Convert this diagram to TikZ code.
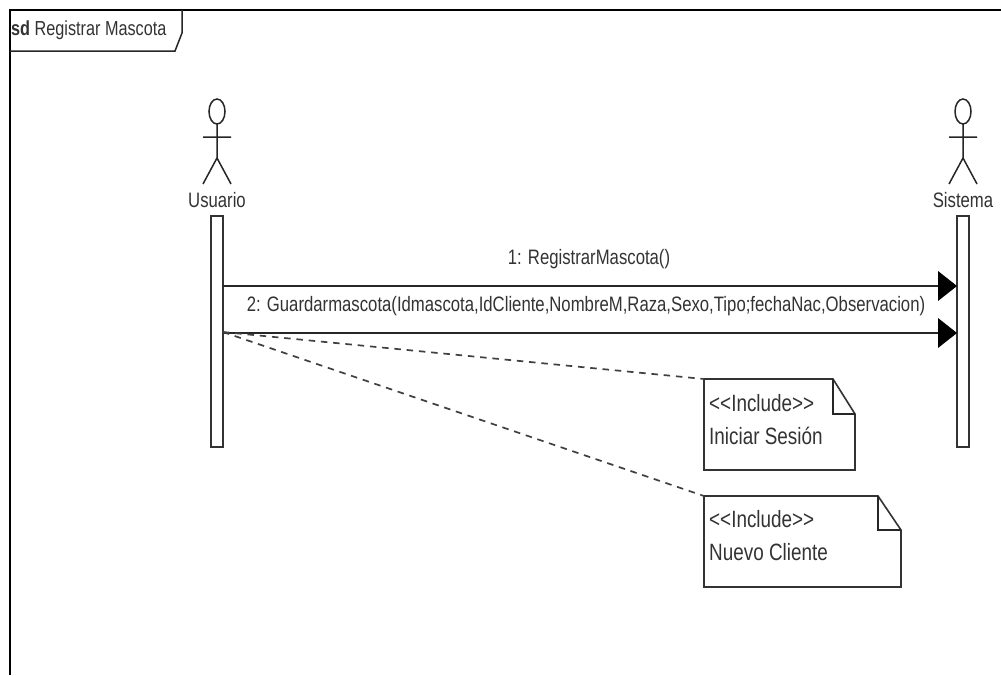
\documentclass[tikz,border=0pt]{standalone}
\usepackage{fontspec}
\setmainfont[FakeStretch=0.8]{Liberation Sans}
\tikzset{
  x=1pt,y=-1pt,
  line/.style={draw=black!85,line width=1.5pt},
  bar/.style={draw=black!80,line width=1.6pt,fill=white},
  lbl/.style={inner sep=0pt,font=\fontsize{20.9}{24}\selectfont,text=black!80},
  ttl/.style={inner sep=0pt,font=\fontsize{20.3}{24}\selectfont,text=black!80},
  ntx/.style={inner sep=0pt,font=\fontsize{23.6}{26}\selectfont,text=black!80},
  msg/.style={draw=black!85,line width=2pt},
  tip/.style={fill=black,draw=none},
  link/.style={draw=black!75,line width=1.7pt,dash pattern=on 6.5pt off 5.8pt},
}
\newcommand{\stickman}[1]{%
  \draw[line] (#1,111.5) ellipse [x radius=8,y radius=12.5];
  \draw[line] (#1,124) -- (#1,158) (#1-14,137) -- (#1+14,137) (#1-14,184) -- (#1,158) -- (#1+14,184);
}
\begin{document}
\begin{tikzpicture}
\useasboundingbox (0,0) rectangle (1001,675);
\fill[white] (0,0) rectangle (1001,675);
\draw[draw=black,line width=2pt] (9.5,675) -- (9.5,9.5) -- (1001,9.5);
\draw[line] (9.5,51) -- (175,51) -- (182,33) -- (182,9.5);
\node[ttl,anchor=west] (title) at (11,30) {\textbf{sd} Registrar Mascota};
\stickman{217}
\stickman{963}
\node[lbl] (usuario) at (217,200) {Usuario};
\node[lbl] (sistema) at (963,200) {Sistema};
\path[bar] (211,216) rectangle (223,447);
\path[bar] (957,216) rectangle (969,447);
\coordinate (a1) at (223,286);
\coordinate (b1) at (957,286);
\coordinate (a2) at (223,333);
\coordinate (b2) at (957,333);
\draw[msg] (a1) -- (940,286);
\draw[msg] (a2) -- (940,333);
\fill[tip] (b1) -- (938,271) -- (938,301) -- cycle;
\fill[tip] (b2) -- (938,318) -- (938,348) -- cycle;
\node[lbl] (m1) at (589,259) {1: RegistrarMascota()};
\node[lbl] (m2) at (586,306) {2: Guardarmascota(Idmascota,IdCliente,NombreM,Raza,Sexo,Tipo;fechaNac,Observacion)};
\coordinate (o) at (223,332);
\path[bar] (704,379) -- (833,379) -- (855,414) -- (855,470) -- (704,470) -- cycle;
\draw[line] (833,379) -- (833,414) -- (855,414);
\path[bar] (704,496) -- (878,496) -- (901,530) -- (901,587) -- (704,587) -- cycle;
\draw[line] (878,496) -- (878,530) -- (901,530);
\coordinate (n1) at (704,379);
\coordinate (n2) at (704,496);
\draw[link] (o) -- (n1);
\draw[link] (o) -- (n2);
\node[ntx,anchor=west] (t1a) at (709,403) {<{}<Include>{}>};
\node[ntx,anchor=west] (t1b) at (709,436) {Iniciar Sesión};
\node[ntx,anchor=west] (t2a) at (709,519) {<{}<Include>{}>};
\node[ntx,anchor=west] (t2b) at (709,552) {Nuevo Cliente};
\end{tikzpicture}
\end{document}
